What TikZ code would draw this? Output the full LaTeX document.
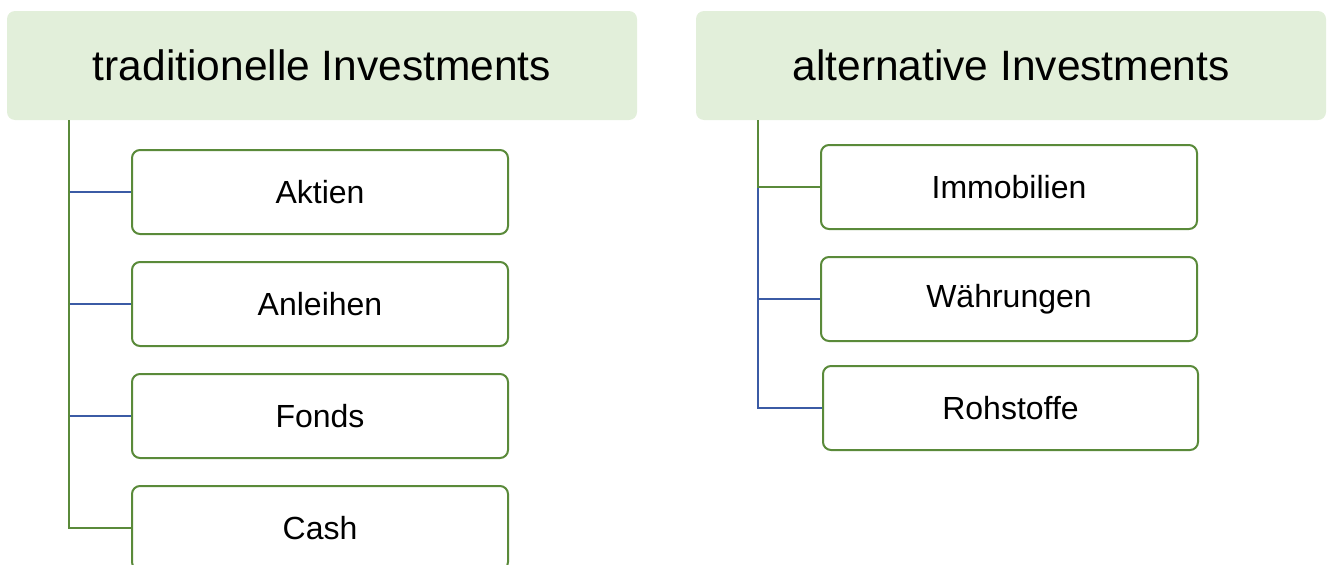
\documentclass[tikz,border=0pt]{standalone}
\usepackage{fontspec}
\setmainfont{Liberation Sans}
\definecolor{hdrfill}{HTML}{E2EFDA}
\definecolor{grn}{HTML}{5A8A3A}
\definecolor{blu}{HTML}{3B5BA5}
\begin{document}
\begin{tikzpicture}[x=1pt,y=-1pt,
  header/.style={rectangle, rounded corners=8pt, fill=hdrfill, minimum width=630pt, minimum height=109pt, inner sep=0pt, font=\fontsize{42.5}{50}\selectfont},
  child/.style={rectangle, rounded corners=8pt, draw=grn, line width=2pt, fill=white, minimum width=376pt, minimum height=84pt, inner sep=0pt, font=\fontsize{32}{38}\selectfont},
  bline/.style={draw=blu, line width=2pt},
  gline/.style={draw=grn, line width=2pt}]
\clip (0,0) rectangle (1331,565);
\node[header] (lh) at (322,65.5) {traditionelle Investments};
\node[header] (rh) at (1011,65.5) {alternative Investments};
\coordinate (lt) at (69,120);
\coordinate (rt) at (758,120);
\node[child] (aktien) at (320,192) {Aktien};
\node[child] (anleihen) at (320,304) {Anleihen};
\node[child] (fonds) at (320,416) {Fonds};
\node[child] (cash) at (320,528) {Cash};
\node[child, minimum width=376pt] (immo) at (1009,187) {Immobilien};
\node[child] (wahr) at (1009,299) {Währungen};
\node[child, minimum width=375pt] (roh) at (1010.5,408) {Rohstoffe};
\draw[bline] (lt) |- (aktien.west);
\draw[bline] (lt) |- (anleihen.west);
\draw[bline] (lt) |- (fonds.west);
\draw[gline] (lt) |- (cash.west);
\draw[bline] (rt) |- (wahr.west);
\draw[bline] (rt) |- (roh.west);
\draw[gline] (rt) |- (immo.west);
\end{tikzpicture}
\end{document}
